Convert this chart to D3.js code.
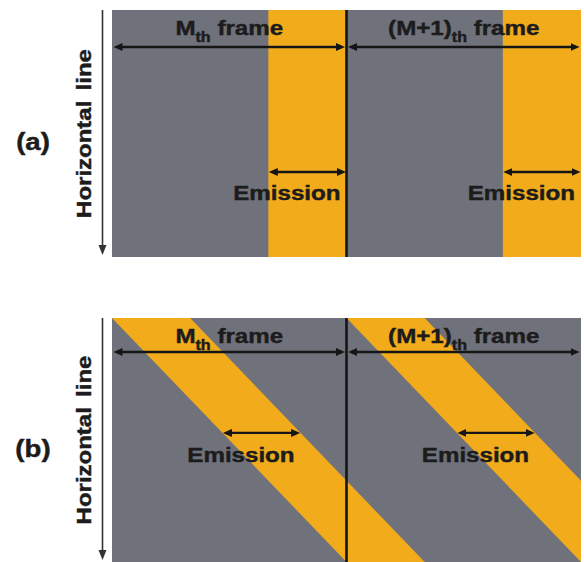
<!DOCTYPE html>
<html>
<head>
<meta charset="utf-8">
<script src="https://cdn.jsdelivr.net/npm/d3@7"></script>
<style>
  html, body { margin: 0; padding: 0; background: #fff; }
  text { font-family: "Liberation Sans", Arial, sans-serif; font-weight: bold; fill: #1c1c1c; stroke: #1c1c1c; stroke-width: 0.45px; }
</style>
</head>
<body>
<script>
// frame timing data (time in frame units, line position 0 = first line, 1 = last line)
var panelLabels = ['(a)', '(b)'];
var frameLabels = ['M', '(M+1)'];
var frameStarts = [0, 1];
var emissionLength = 1 / 3;        // share of a frame each line emits
var globalEmissionStart = 2 / 3;   // (a) every line starts emitting together
var lineDelay = 1;                 // (b) first to last line start spread over one frame

var W = 584, H = 562;
var grey = '#6f727b', orange = '#f2ab1b', ink = '#151515';

// layout
var panels = [
	{ top: 10, bottom: 257, titleBase: 35, arrowY: 47, markLine: 0.656, emisBase: 200, textShift: 6 },
	{ top: 318, bottom: 562, titleBase: 343, arrowY: 352, markLine: 0.471, emisBase: 462, textShift: 6 }
];
var labelBase = [150, 457];

var svg = d3.select('body').append('svg')
	.attr('width', W)
	.attr('height', H);

var defs = svg.append('defs');

defs.append('marker')
	.attr('id', 'head')
	.attr('markerUnits', 'userSpaceOnUse')
	.attr('markerWidth', 10)
	.attr('markerHeight', 8)
	.attr('refX', 2)
	.attr('refY', 4)
	.attr('orient', 'auto-start-reverse')
	.append('path')
	.attr('d', 'M0,0 L9,4 L0,8 Z')
	.style('fill', ink);

defs.append('marker')
	.attr('id', 'axisHead')
	.attr('markerUnits', 'userSpaceOnUse')
	.attr('markerWidth', 10)
	.attr('markerHeight', 10)
	.attr('refX', 2)
	.attr('refY', 4)
	.attr('orient', 'auto')
	.append('path')
	.attr('d', 'M0,0 L10,4 L0,8 Z')
	.style('fill', '#333');

var x = d3.scaleLinear().domain([0, 2]).range([112, 581]);

panels.forEach(function (p, i) {
	var y = d3.scaleLinear().domain([0, 1]).range([p.top, p.bottom]);
	var g = svg.append('g');

	defs.append('clipPath')
		.attr('id', 'clip' + i)
		.append('rect')
		.attr('x', x(0))
		.attr('y', y(0))
		.attr('width', x(2) - x(0))
		.attr('height', y(1) - y(0));

	g.append('rect')
		.attr('x', x(0))
		.attr('y', y(0))
		.attr('width', x(2) - x(0))
		.attr('height', y(1) - y(0))
		.style('fill', grey);

	// emission bands
	var bands = g.append('g').attr('clip-path', 'url(#clip' + i + ')');
	var starts = [];

	if (i === 0) {
		bands.selectAll('rect')
			.data(frameStarts)
			.enter()
			.append('rect')
			.attr('x', function (k) { return x(k + globalEmissionStart); })
			.attr('y', y(0))
			.attr('width', function () { return x(emissionLength) - x(0); })
			.attr('height', y(1) - y(0))
			.style('fill', orange);
		starts = frameStarts.map(function (k) { return k + globalEmissionStart; });
	} else {
		bands.selectAll('polygon')
			.data(frameStarts)
			.enter()
			.append('polygon')
			.attr('points', function (k) {
				return [[k, 0], [k + emissionLength, 0], [k + emissionLength + lineDelay, 1], [k + lineDelay, 1]]
					.map(function (d) { return x(d[0]) + ',' + y(d[1]); }).join(' ');
			})
			.style('fill', orange);
		starts = frameStarts.map(function (k) { return k + lineDelay * p.markLine; });
	}

	// frame divider
	g.append('line')
		.attr('x1', x(1)).attr('x2', x(1))
		.attr('y1', y(0)).attr('y2', y(1))
		.style('stroke', ink)
		.style('stroke-width', 2.6);

	// frame span arrows + titles
	frameStarts.forEach(function (k, j) {
		g.append('line')
			.attr('x1', x(k) + 8.5).attr('x2', x(k + 1) - 8.5)
			.attr('y1', p.arrowY).attr('y2', p.arrowY)
			.attr('marker-start', 'url(#head)')
			.attr('marker-end', 'url(#head)')
			.style('stroke', ink)
			.style('stroke-width', 2.4);

		var t = g.append('g')
			.attr('transform', 'translate(' + x(k + 0.5) + ',' + p.titleBase + ') scale(1.15,1)')
			.append('text')
			.attr('text-anchor', 'middle')
			.style('font-size', '21px');
		t.append('tspan').text(frameLabels[j]);
		t.append('tspan').attr('dy', 6.5).style('font-size', '14px').text('th');
		t.append('tspan').attr('dy', -6.5).text(' frame');

		// emission arrow + label
		var ex0 = x(starts[j]), ex1 = x(starts[j] + emissionLength);
		var ay = y(p.markLine);
		g.append('line')
			.attr('x1', ex0 + 7.5).attr('x2', Math.min(ex1, x(2)) - 7.5)
			.attr('y1', ay).attr('y2', ay)
			.attr('marker-start', 'url(#head)')
			.attr('marker-end', 'url(#head)')
			.style('stroke', ink)
			.style('stroke-width', 2.4);

		g.append('g')
			.attr('transform', 'translate(' + (Math.min(ex1, x(2)) - p.textShift) + ',' + p.emisBase + ') scale(1.15,1)')
			.append('text')
			.attr('text-anchor', 'end')
			.style('font-size', '21px')
			.text('Emission');
	});

	// line-scan axis
	g.append('line')
		.attr('x1', 102.5).attr('x2', 102.5)
		.attr('y1', y(0)).attr('y2', y(1) - 10)
		.attr('marker-end', 'url(#axisHead)')
		.style('stroke', '#333')
		.style('stroke-width', 1.6);

	g.append('text')
		.attr('transform', 'translate(91,' + (y(0) + y(1)) / 2 + ') rotate(-90) scale(1.2,1)')
		.attr('text-anchor', 'middle')
		.style('font-size', '20px')
		.style('word-spacing', '3px')
		.text('Horizontal line');

	g.append('g')
		.attr('transform', 'translate(33,' + labelBase[i] + ') scale(1.15,1)')
		.append('text')
		.attr('text-anchor', 'middle')
		.style('font-size', '24px')
		.text(panelLabels[i]);
});
</script>
</body>
</html>
